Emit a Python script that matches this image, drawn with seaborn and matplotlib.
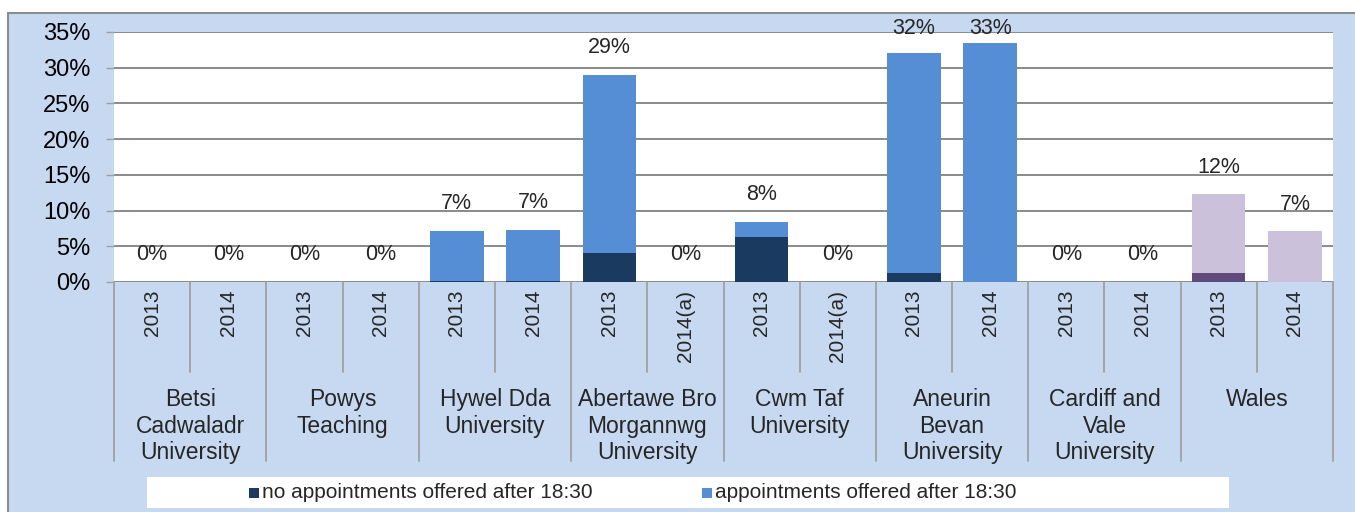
import numpy as np
import pandas as pd
import matplotlib
matplotlib.use("Agg")
import matplotlib.pyplot as plt
import seaborn as sns
from matplotlib.patches import Rectangle
from matplotlib.ticker import PercentFormatter

# health boards (two bars each)
boards = ["Betsi\nCadwaladr\nUniversity", "Powys\nTeaching", "Hywel Dda\nUniversity",
          "Abertawe Bro\nMorgannwg\nUniversity", "Cwm Taf\nUniversity",
          "Aneurin\nBevan\nUniversity", "Cardiff and\nVale\nUniversity", "Wales"]
years = ["2013", "2014", "2013", "2014", "2013", "2014", "2013", "2014(a)",
         "2013", "2014(a)", "2013", "2014", "2013", "2014", "2013", "2014"]

# percentages
no_appt = [0, 0, 0, 0, 0.15, 0.15, 4.0, 0, 6.3, 0, 1.2, 0, 0, 0, 1.2, 0]
with_appt = [0, 0, 0, 0, 7.0, 7.2, 25.0, 0, 2.1, 0, 30.9, 33.4, 0, 0, 11.1, 7.1]
total_labels = ["0%", "0%", "0%", "0%", "7%", "7%", "29%", "0%",
                "8%", "0%", "32%", "33%", "0%", "0%", "12%", "7%"]

W, H = 1355, 512
frame_col = "#C6D9F0"
dark_blue, light_blue = "#1B3A5F", "#558ED5"
dark_purple, light_purple = "#604A7B", "#CCC1DA"

df = pd.DataFrame({
    "slot": [f"{i:02d}" for i in range(16)],
    "no": no_appt,
    "yes": with_appt,
})
df["total"] = df["no"] + df["yes"]
is_wales = [i >= 14 for i in range(16)]
light_cols = [light_purple if w else light_blue for w in is_wales]
dark_cols = [dark_purple if w else dark_blue for w in is_wales]

sns.set_theme(style="white")
plt.rcParams["font.family"] = ["Liberation Sans", "DejaVu Sans"]

fig = plt.figure(figsize=(W / 100, H / 100), dpi=100)
fig.patch.set_facecolor("white")
fig.patches.append(Rectangle((8 / W, -0.05), 1.0, (H - 13) / H + 0.05,
                             transform=fig.transFigure, fc=frame_col,
                             ec="#8C8C8C", lw=1.5, zorder=-1))

ax = fig.add_axes([114 / W, (H - 282) / H, (1333 - 114) / W, 250 / H])
ax.set_facecolor("white")

sns.barplot(data=df, x="slot", y="total", hue="slot", palette=light_cols,
            legend=False, width=0.7, saturation=1, errorbar=None,
            linewidth=0, ax=ax)
sns.barplot(data=df, x="slot", y="no", hue="slot", palette=dark_cols,
            legend=False, width=0.7, saturation=1, errorbar=None,
            linewidth=0, ax=ax)

ax.set_ylim(0, 35)
ax.set_xlim(-0.5, 15.5)
ax.set_yticks(np.arange(0, 36, 5))
ax.yaxis.set_major_formatter(PercentFormatter(decimals=0))
ax.grid(axis="y", color="#8A8A8A", lw=1.4)
ax.set_axisbelow(True)
for s in ax.spines.values():
    s.set_visible(False)
ax.tick_params(axis="y", left=True, length=6, width=1, color="#A0A0A0",
               pad=11, labelsize=17, labelcolor="black")
ax.tick_params(axis="x", bottom=False, labelbottom=False)
ax.set_xlabel("")
ax.set_ylabel("")

# total labels above the bars
px = 35 / 250
for i, lab in enumerate(total_labels):
    y = min(df["total"][i] + 27 * px, 35 + 3 * px)
    ax.text(i, y, lab, ha="center", va="center", fontsize=15.5, clip_on=False)

# category axis: years, group names and separators
tr = ax.get_xaxis_transform()
for i, yr in enumerate(years):
    ax.text(i, -8 / 250, yr, rotation=90, ha="center", va="top",
            fontsize=15, transform=tr)
for k in range(17):
    low = -179 / 250 if k % 2 == 0 else -90 / 250
    ax.plot([k - 0.5, k - 0.5], [0, low], color="#A0A0A0", lw=1.3,
            transform=tr, clip_on=False)
for g, name in enumerate(boards):
    ax.text(2 * g + 0.5, -106 / 250, name, ha="center", va="top",
            multialignment="center", fontsize=16.5, linespacing=1.2, transform=tr)

# legend strip
fig.patches.append(Rectangle((147 / W, (H - 508) / H), (1229 - 147) / W, 31 / H,
                             transform=fig.transFigure, fc="white", ec="none", zorder=1))
for x0, col, txt in [(249, dark_blue, "no appointments offered after 18:30"),
                     (702, light_blue, "appointments offered after 18:30")]:
    fig.patches.append(Rectangle((x0 / W, (H - 498) / H), 10 / W, 10 / H,
                                 transform=fig.transFigure, fc=col, ec="none", zorder=2))
    fig.text((x0 + 13) / W, (H - 493) / H, txt, ha="left", va="center",
             fontsize=15, zorder=3)

fig.savefig("out.png", dpi=100, facecolor="white")
